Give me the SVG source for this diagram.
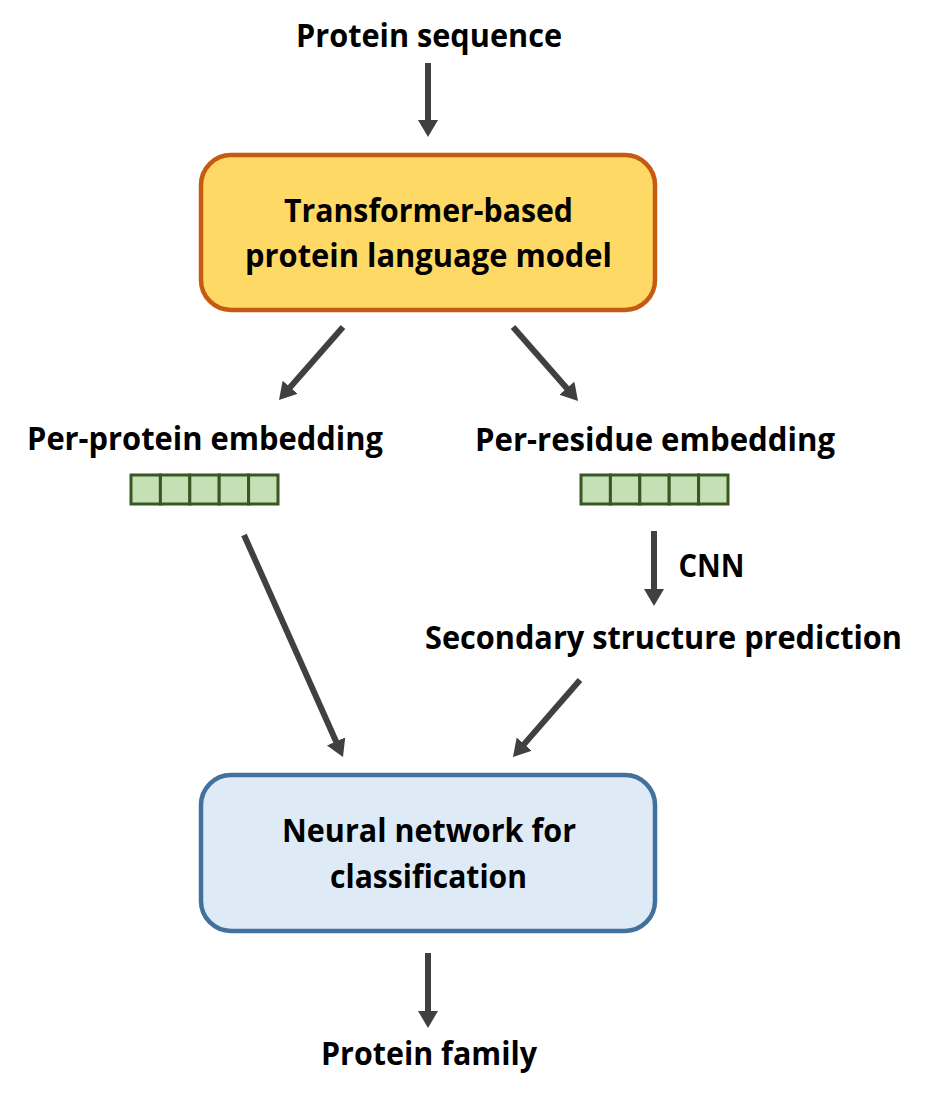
<svg xmlns="http://www.w3.org/2000/svg" width="927" height="1099" viewBox="0 0 927 1099">
  <defs>
    <marker id="ah" markerUnits="userSpaceOnUse" markerWidth="20" markerHeight="22" refX="3" refY="10" orient="auto">
      <path d="M0,0 L17,10 L0,20 z" fill="#404040"/>
    </marker>
    <style>
      text { font-family: "Open Sans", "Noto Sans", "Liberation Sans", sans-serif; font-weight: 700; font-size: 32px; fill: #000; text-anchor: middle; }
      .conn line { stroke: #404040; stroke-width: 6; marker-end: url(#ah); }
      .cell { fill: #C5E0B4; stroke: #385723; stroke-width: 3; }
    </style>
  </defs>
  <rect width="927" height="1099" fill="#fff"/>

  <g id="input">
    <text x="429" y="47" textLength="266" lengthAdjust="spacingAndGlyphs">Protein sequence</text>
  </g>

  <g id="plm">
    <rect x="201" y="155" width="454" height="155" rx="30" ry="30" fill="#FFD966" stroke="#C55A11" stroke-width="4.5"/>
    <text x="428.5" y="222" textLength="289" lengthAdjust="spacingAndGlyphs">Transformer-based</text>
    <text x="428.5" y="267" textLength="367" lengthAdjust="spacingAndGlyphs">protein language model</text>
  </g>

  <g id="per-protein">
    <text x="205" y="450" textLength="356" lengthAdjust="spacingAndGlyphs">Per-protein embedding</text>
    <rect class="cell" x="131" y="475" width="29.4" height="29"/>
    <rect class="cell" x="160.4" y="475" width="29.4" height="29"/>
    <rect class="cell" x="189.8" y="475" width="29.4" height="29"/>
    <rect class="cell" x="219.2" y="475" width="29.4" height="29"/>
    <rect class="cell" x="248.6" y="475" width="29.4" height="29"/>
  </g>

  <g id="per-residue">
    <text x="655" y="451" textLength="360" lengthAdjust="spacingAndGlyphs">Per-residue embedding</text>
    <rect class="cell" x="581" y="475" width="29.4" height="29"/>
    <rect class="cell" x="610.4" y="475" width="29.4" height="29"/>
    <rect class="cell" x="639.8" y="475" width="29.4" height="29"/>
    <rect class="cell" x="669.2" y="475" width="29.4" height="29"/>
    <rect class="cell" x="698.6" y="475" width="29.4" height="29"/>
  </g>

  <g id="secondary">
    <text x="663.5" y="649" textLength="477" lengthAdjust="spacingAndGlyphs">Secondary structure prediction</text>
  </g>

  <g id="classifier">
    <rect x="201" y="775" width="454" height="156" rx="30" ry="30" fill="#DEEBF7" stroke="#41719C" stroke-width="4.5"/>
    <text x="429" y="842" textLength="294" lengthAdjust="spacingAndGlyphs">Neural network for</text>
    <text x="428.5" y="888" textLength="197" lengthAdjust="spacingAndGlyphs">classification</text>
  </g>

  <g id="output">
    <text x="429" y="1065" textLength="216" lengthAdjust="spacingAndGlyphs">Protein family</text>
  </g>

  <g id="connectors" class="conn">
    <line x1="428" y1="63" x2="428" y2="123"/>
    <line x1="343" y1="327" x2="288.2" y2="389.5"/>
    <line x1="513" y1="327" x2="568.8" y2="390.5"/>
    <line x1="654" y1="531" x2="654" y2="592"/>
    <text x="711.5" y="577" textLength="66" lengthAdjust="spacingAndGlyphs">CNN</text>
    <line x1="244" y1="535" x2="337.3" y2="744.2"/>
    <line x1="580" y1="680" x2="522.2" y2="746.4"/>
    <line x1="428" y1="953" x2="428" y2="1014"/>
  </g>
</svg>
